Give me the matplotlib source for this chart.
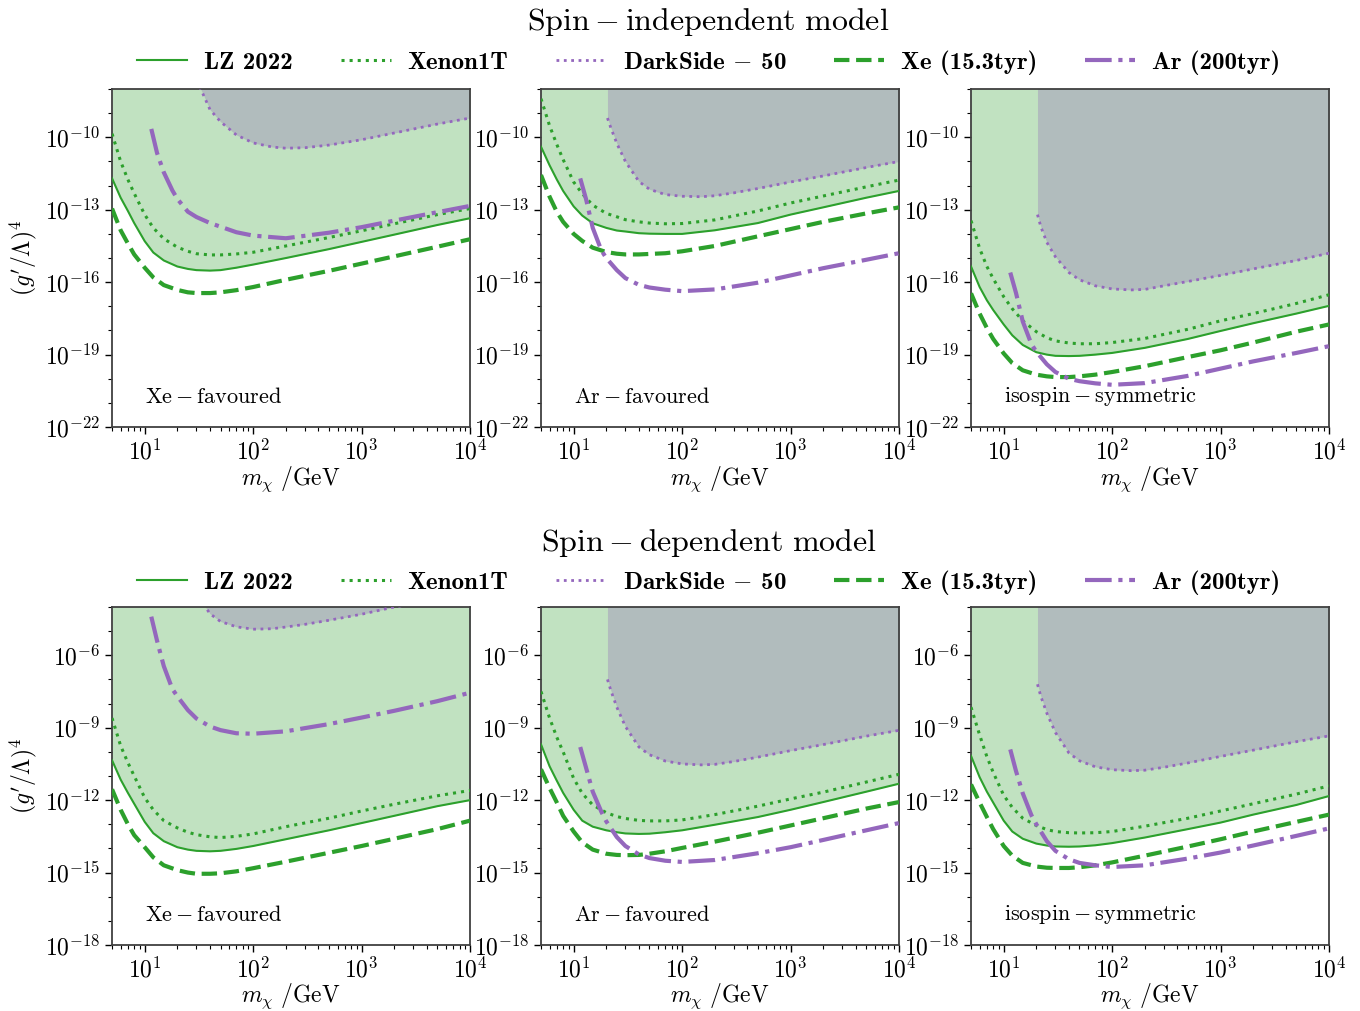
import numpy as np
import matplotlib
matplotlib.use('Agg')
import matplotlib.pyplot as plt
from matplotlib.ticker import FixedLocator, FuncFormatter, NullFormatter

plt.rcParams['mathtext.fontset'] = 'cm'
plt.rcParams['font.family'] = 'serif'
plt.rcParams['font.serif'] = ['cmr10', 'DejaVu Serif']
plt.rcParams['axes.formatter.use_mathtext'] = True

# dark matter masses (GeV)
mass = [5, 6, 7, 8, 10, 12, 15, 20, 25, 30, 40, 50, 70, 100, 200, 500, 1000, 2000, 5000, 10000]
ds_mass = [20.5, 22, 25, 30, 40, 50, 70, 100, 150, 200, 300, 500, 1000, 2000, 5000, 10000]
ar_mass = [11.5, 13, 15, 18, 20, 25, 30, 40, 50, 70, 100, 200, 500, 1000, 2000, 5000, 10000]

# log10 (g'/Lambda)^4 limits, spin-independent
si_xe_lz = [-11.7, -12.5, -13.05, -13.55, -14.3, -14.77, -15.1, -15.35, -15.45, -15.5, -15.52, -15.5, -15.4, -15.27, -15.0, -14.63, -14.33, -14.03, -13.63, -13.35]
si_xe_x1t = [-9.85, -11.0, -11.75, -12.32, -13.2, -13.75, -14.2, -14.55, -14.72, -14.82, -14.87, -14.87, -14.83, -14.76, -14.5, -14.15, -13.87, -13.58, -13.2, -12.95]
si_xe_xe = [-12.95, -13.85, -14.4, -14.85, -15.4, -15.8, -16.12, -16.32, -16.42, -16.45, -16.45, -16.42, -16.33, -16.2, -15.9, -15.53, -15.23, -14.93, -14.53, -14.22]
si_xe_ds = [-6.0, -6.6, -7.2, -7.6, -8.85, -9.35, -9.9, -10.23, -10.4, -10.45, -10.43, -10.32, -10.1, -9.82, -9.45, -9.2]
si_xe_ar = [-9.65, -10.65, -11.45, -12.2, -12.55, -13.08, -13.3, -13.55, -13.7, -13.93, -14.07, -14.18, -13.95, -13.72, -13.45, -13.1, -12.84]

si_ar_lz = [-10.39, -11.16, -11.75, -12.22, -12.86, -13.24, -13.56, -13.75, -13.86, -13.9, -13.97, -13.99, -14.0, -14.0, -13.85, -13.55, -13.2, -12.9, -12.5, -12.22]
si_ar_x1t = [-8.4, -9.52, -10.3, -10.92, -11.85, -12.33, -12.81, -13.15, -13.29, -13.41, -13.5, -13.55, -13.58, -13.57, -13.42, -13.05, -12.72, -12.43, -12.05, -11.77]
si_ar_xe = [-11.56, -12.46, -13.09, -13.5, -14.0, -14.29, -14.57, -14.75, -14.82, -14.85, -14.85, -14.83, -14.8, -14.72, -14.5, -14.1, -13.8, -13.5, -13.15, -12.9]
si_ar_ds = [-9.2, -9.6, -10.25, -11.0, -11.83, -12.15, -12.37, -12.44, -12.46, -12.42, -12.3, -12.12, -11.85, -11.6, -11.25, -11.0]
si_ar_ar = [-11.7, -12.55, -13.75, -14.68, -15.0, -15.5, -15.83, -16.11, -16.22, -16.31, -16.37, -16.3, -16.02, -15.72, -15.42, -15.07, -14.8]

si_iso_lz = [-15.35, -16.2, -16.75, -17.15, -17.75, -18.2, -18.6, -18.9, -19.0, -19.05, -19.06, -19.05, -19.0, -18.93, -18.72, -18.35, -18.02, -17.7, -17.3, -16.98]
si_iso_x1t = [-13.45, -14.6, -15.35, -15.85, -16.6, -17.1, -17.6, -18.05, -18.3, -18.43, -18.52, -18.55, -18.55, -18.5, -18.33, -17.95, -17.6, -17.3, -16.88, -16.52]
si_iso_xe = [-16.46, -17.3, -17.9, -18.35, -18.95, -19.35, -19.65, -19.83, -19.9, -19.93, -19.93, -19.9, -19.83, -19.72, -19.48, -19.1, -18.82, -18.5, -18.05, -17.75]
si_iso_ds = [-13.2, -13.7, -14.35, -14.95, -15.6, -15.9, -16.15, -16.28, -16.32, -16.3, -16.15, -15.97, -15.72, -15.45, -15.1, -14.8]
si_iso_ar = [-15.6, -16.45, -17.63, -18.56, -18.88, -19.4, -19.72, -20.0, -20.1, -20.19, -20.25, -20.18, -19.88, -19.58, -19.28, -18.93, -18.65]

# spin-dependent
sd_xe_lz = [-10.35, -11.15, -11.7, -12.15, -12.9, -13.37, -13.7, -13.95, -14.05, -14.1, -14.12, -14.1, -14.02, -13.9, -13.62, -13.25, -12.95, -12.65, -12.25, -12.0]
sd_xe_x1t = [-8.6, -9.75, -10.45, -11.0, -11.9, -12.4, -12.85, -13.15, -13.33, -13.43, -13.52, -13.55, -13.5, -13.4, -13.1, -12.75, -12.45, -12.17, -11.82, -11.6]
sd_xe_xe = [-11.55, -12.4, -13.0, -13.45, -13.95, -14.37, -14.7, -14.9, -15.0, -15.05, -15.05, -15.03, -14.95, -14.82, -14.55, -14.18, -13.9, -13.6, -13.2, -12.85]
sd_xe_ds = [-1.66, -2.06, -2.7, -3.45, -4.28, -4.6, -4.82, -4.92, -4.9, -4.83, -4.72, -4.55, -4.3, -4.0, -3.7, -3.4]
sd_xe_ar = [-4.4, -5.4, -6.45, -7.4, -7.7, -8.27, -8.62, -8.95, -9.1, -9.23, -9.25, -9.15, -8.85, -8.58, -8.3, -7.9, -7.55]

sd_ar_lz = [-9.69, -10.6, -11.2, -11.7, -12.4, -12.85, -13.1, -13.25, -13.33, -13.38, -13.4, -13.39, -13.33, -13.25, -13.02, -12.7, -12.4, -12.08, -11.65, -11.32]
sd_ar_x1t = [-7.5, -8.6, -9.4, -10.0, -11.1, -11.72, -12.2, -12.52, -12.68, -12.76, -12.84, -12.86, -12.86, -12.82, -12.6, -12.25, -11.95, -11.67, -11.25, -10.93]
sd_ar_xe = [-10.72, -11.5, -12.1, -12.65, -13.3, -13.75, -14.05, -14.22, -14.27, -14.28, -14.27, -14.22, -14.12, -13.98, -13.72, -13.35, -13.05, -12.75, -12.35, -12.08]
sd_ar_ds = [-7.0, -7.45, -8.15, -8.95, -9.8, -10.12, -10.38, -10.5, -10.54, -10.52, -10.4, -10.22, -9.95, -9.7, -9.35, -9.11]
sd_ar_ar = [-9.8, -10.65, -11.65, -12.48, -12.88, -13.53, -13.9, -14.25, -14.4, -14.51, -14.56, -14.48, -14.2, -13.95, -13.65, -13.25, -12.95]

sd_iso_lz = [-10.17, -11.05, -11.65, -12.1, -12.85, -13.3, -13.6, -13.8, -13.88, -13.92, -13.93, -13.92, -13.87, -13.78, -13.55, -13.2, -12.93, -12.6, -12.2, -11.83]
sd_iso_x1t = [-8.15, -9.3, -10.2, -10.85, -11.8, -12.3, -12.75, -13.05, -13.22, -13.3, -13.35, -13.36, -13.35, -13.3, -13.08, -12.75, -12.45, -12.15, -11.75, -11.41]
sd_iso_xe = [-11.35, -12.1, -12.7, -13.2, -13.9, -14.3, -14.6, -14.75, -14.8, -14.81, -14.81, -14.78, -14.7, -14.58, -14.3, -13.92, -13.62, -13.3, -12.9, -12.6]
sd_iso_ds = [-7.2, -7.7, -8.4, -9.2, -10.05, -10.37, -10.62, -10.74, -10.78, -10.76, -10.64, -10.46, -10.19, -9.93, -9.58, -9.34]
sd_iso_ar = [-9.9, -10.8, -11.72, -12.62, -13.0, -13.7, -14.1, -14.45, -14.6, -14.7, -14.77, -14.7, -14.42, -14.17, -13.88, -13.48, -13.17]

panel_labels = [r'$\mathrm{Xe-favoured}$', r'$\mathrm{Ar-favoured}$', r'$\mathrm{isospin-symmetric}$']
row_titles = [r'$\mathrm{Spin-independent\ model}$', r'$\mathrm{Spin-dependent\ model}$']
legend_labels = ['LZ 2022', 'Xenon1T', 'DarkSide $-$ 50', 'Xe (15.3tyr)', 'Ar (200tyr)']

rows = [
    [(si_xe_lz, si_xe_x1t, si_xe_xe, si_xe_ds, si_xe_ar),
     (si_ar_lz, si_ar_x1t, si_ar_xe, si_ar_ds, si_ar_ar),
     (si_iso_lz, si_iso_x1t, si_iso_xe, si_iso_ds, si_iso_ar)],
    [(sd_xe_lz, sd_xe_x1t, sd_xe_xe, sd_xe_ds, sd_xe_ar),
     (sd_ar_lz, sd_ar_x1t, sd_ar_xe, sd_ar_ds, sd_ar_ar),
     (sd_iso_lz, sd_iso_x1t, sd_iso_xe, sd_iso_ds, sd_iso_ar)],
]
ylims = [(-22, -8), (-18, -4)]

green = '#2ca02c'
purple = '#9467bd'
green_fill = '#c1e2c1'
grey_fill = '#b1bcbd'

fig = plt.figure(figsize=(13.6, 10.11), dpi=100)
lefts = [0.0824, 0.3978, 0.714]
bottoms = [0.5776, 0.0653]
W, H = 0.2632, 0.3343

fmt = FuncFormatter(lambda v, p: r'$10^{%d}$' % int(round(np.log10(v))))

for r in range(2):
    lo, hi = ylims[r]
    for c in range(3):
        lz, x1t, xe, ds, ar = [10.0 ** np.array(a) for a in rows[r][c]]
        ax = fig.add_axes([lefts[c], bottoms[r], W, H])
        ax.fill_between(mass, lz, 1.0, color=green_fill, lw=0, zorder=0)
        ax.fill_between(ds_mass, ds, 1.0, color=grey_fill, lw=0, zorder=1)
        l1, = ax.plot(mass, lz, '-', color=green, lw=1.5, zorder=3)
        l2, = ax.plot(mass, x1t, ':', color=green, lw=2.2, zorder=3)
        l3, = ax.plot(ds_mass, ds, ':', color=purple, lw=2.0, zorder=3)
        l4, = ax.plot(mass, xe, '--', color=green, lw=3, zorder=4)
        l5, = ax.plot(ar_mass, ar, '-.', color=purple, lw=3, zorder=4)
        ax.set_xscale('log')
        ax.set_yscale('log')
        ax.set_xlim(5, 1e4)
        ax.set_ylim(10.0 ** lo, 10.0 ** hi)
        ax.yaxis.set_major_locator(FixedLocator(10.0 ** np.arange(lo, hi - 1, 3)))
        ax.yaxis.set_minor_locator(FixedLocator(10.0 ** np.arange(lo, hi + 1)))
        ax.yaxis.set_major_formatter(fmt)
        ax.yaxis.set_minor_formatter(NullFormatter())
        ax.set_xticks([10, 100, 1000, 10000])
        ax.xaxis.set_major_formatter(fmt)
        ax.tick_params(labelsize=17, length=5, width=1)
        ax.tick_params(which='minor', length=3, width=0.8)
        for s in ax.spines.values():
            s.set_color('0.25')
            s.set_linewidth(1.3)
        ax.set_xlabel(r'$m_\chi\ /\mathrm{GeV}$', fontsize=17, labelpad=0)
        if c == 0:
            ax.set_ylabel(r"$(g'/\Lambda)^4$", fontsize=17)
        ax.text(0.092, 0.09, panel_labels[c], transform=ax.transAxes,
                fontsize=16, va='center', ha='left')
    yt = [0.978, 0.463][r]
    yl = [0.938, 0.424][r]
    fig.text(0.521, yt, row_titles[r], ha='center', va='center', fontsize=23)
    fig.legend([l1, l2, l3, l4, l5], legend_labels, loc='center', ncol=5,
               bbox_to_anchor=(0.521, yl), frameon=False,
               prop={'family': 'cmb10', 'size': 18},
               handlelength=2.0, columnspacing=1.9, handletextpad=0.68)

fig.savefig('out.png', dpi=100)
